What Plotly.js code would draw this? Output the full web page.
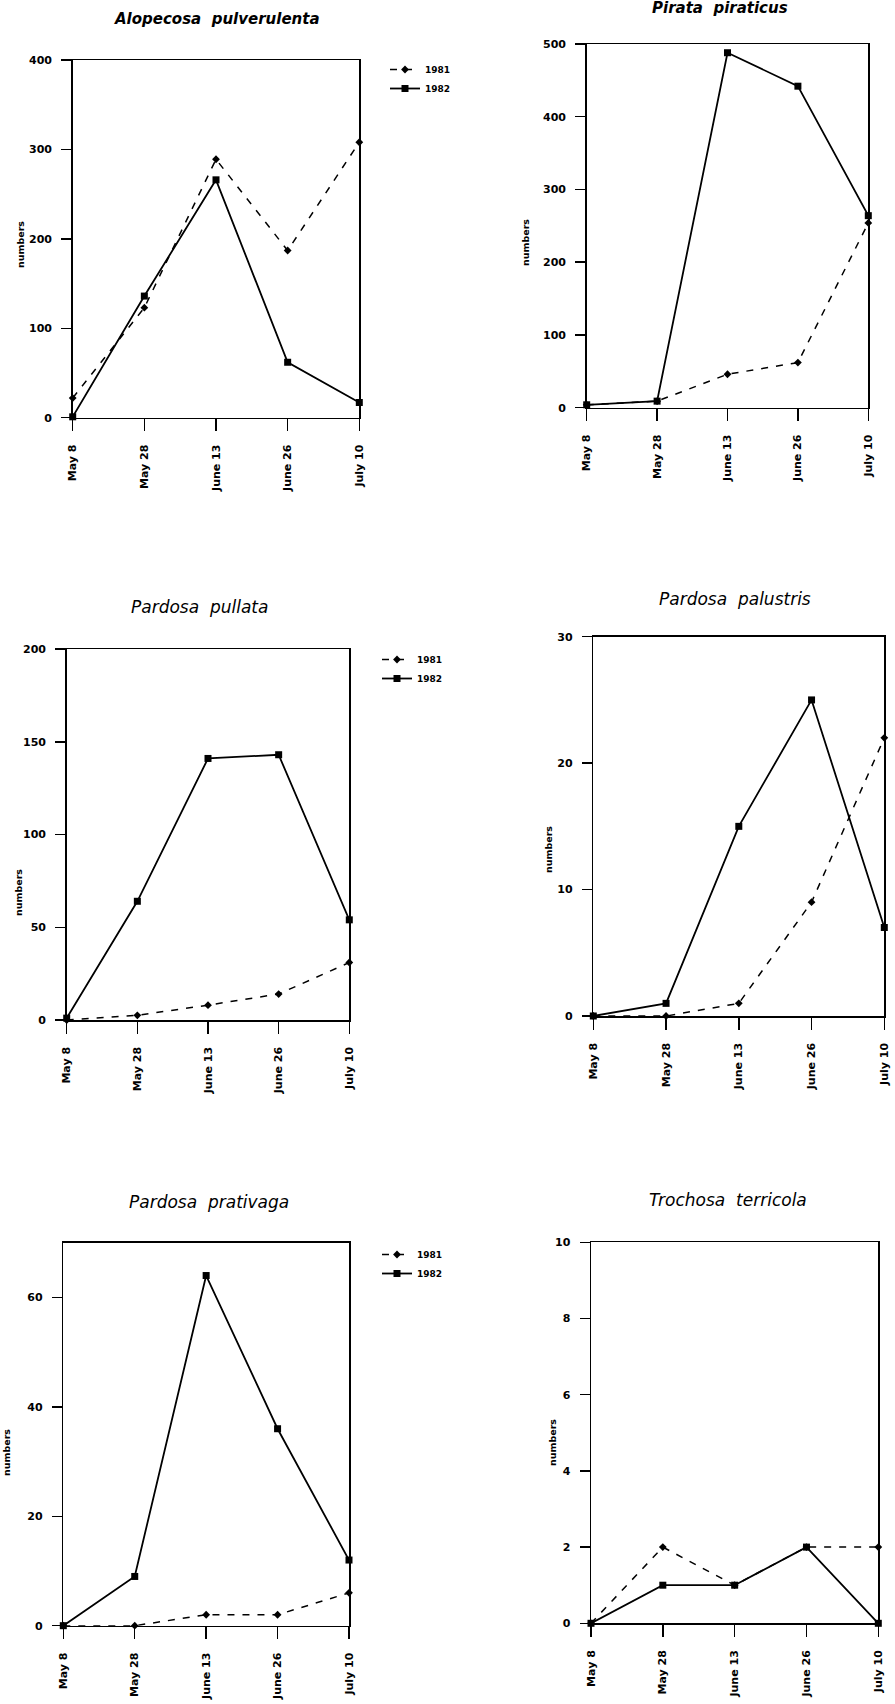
<!DOCTYPE html>
<html>
<head>
<meta charset="utf-8">
<script src="https://cdn.plot.ly/plotly-3.0.1.min.js"></script>
<style>html,body{margin:0;padding:0;background:#fff;}#chart{width:895px;height:1704px;}</style>
</head>
<body>
<div id="chart"></div>
<script>
// ---- data ----
const dates = ['May 8', 'May 28', 'June 13', 'June 26', 'July 10'];
const years = ['1981', '1982'];
const speciesNames = ['Alopecosa  pulverulenta', 'Pirata  piraticus', 'Pardosa  pullata',
                      'Pardosa  palustris', 'Pardosa  prativaga', 'Trochosa  terricola'];

const alopecosa1981 = [22, 123, 289, 187, 308];
const alopecosa1982 = [1, 136, 266, 62, 17];
const pirata1981 = [4, 9, 46, 62, 254];
const pirata1982 = [4, 9, 488, 442, 264];
const pullata1981 = [0, 2.5, 8, 14, 31];
const pullata1982 = [1, 64, 141, 143, 54];
const palustris1981 = [0, 0, 1, 9, 22];
const palustris1982 = [0, 1, 15, 25, 7];
const prativaga1981 = [0, 0, 2, 2, 6];
const prativaga1982 = [0, 9, 64, 36, 12];
const trochosa1981 = [0, 2, 1, 2, 2];
const trochosa1982 = [0, 1, 1, 2, 0];

const yTicks1 = [0, 100, 200, 300, 400];
const yTicks2 = [0, 100, 200, 300, 400, 500];
const yTicks3 = [0, 50, 100, 150, 200];
const yTicks4 = [0, 10, 20, 30];
const yTicks5 = [0, 20, 40, 60];
const yTicks6 = [0, 2, 4, 6, 8, 10];
const yRanges = [[0, 400], [0, 500], [0, 200], [0, 30], [0, 70], [0, 10]];

const series1981 = [alopecosa1981, pirata1981, pullata1981, palustris1981, prativaga1981, trochosa1981];
const series1982 = [alopecosa1982, pirata1982, pullata1982, palustris1982, prativaga1982, trochosa1982];
const yTickSets = [yTicks1, yTicks2, yTicks3, yTicks4, yTicks5, yTicks6];

// ---- layout geometry (pixels) ----
const W = 895, H = 1704;
const boxes = [
  {l: 72.7, r: 359.3, t: 60, b: 417.7, title: [216.5, 18.5], bold: true, ylab: [20, 245], legend: 'legend'},
  {l: 586.7, r: 868.3, t: 44, b: 407.7, title: [720, 7.5], bold: true, ylab: [526, 243], legend: null},
  {l: 66.7, r: 349.3, t: 649, b: 1020, title: [199, 607], bold: false, ylab: [18, 893], legend: 'legend2'},
  {l: 593.3, r: 884.3, t: 636.7, b: 1016, title: [735, 599], bold: false, ylab: [548, 850], legend: null},
  {l: 63.3, r: 349, t: 1242.7, b: 1625.7, title: [209, 1201.5], bold: false, ylab: [6, 1453], legend: 'legend3'},
  {l: 591, r: 878.3, t: 1242.3, b: 1623.3, title: [727.5, 1200], bold: false, ylab: [552, 1443], legend: null}
];
const legendPos = {legend: [385, 55], legend2: [377, 645], legend3: [377, 1240]};

const FONT = 'DejaVu Sans';
const traces = [];
const layout = {
  width: W, height: H,
  margin: {l: 0, r: 0, t: 0, b: 0},
  paper_bgcolor: '#fff', plot_bgcolor: '#fff',
  showlegend: true,
  annotations: []
};

boxes.forEach((bx, i) => {
  const n = i + 1;
  const xa = 'x' + (n === 1 ? '' : n), ya = 'y' + (n === 1 ? '' : n);
  const xk = 'xaxis' + (n === 1 ? '' : n), yk = 'yaxis' + (n === 1 ? '' : n);
  layout[xk] = {
    domain: [bx.l / W, bx.r / W], anchor: ya, type: 'category',
    range: [0, 4], showline: true, mirror: true, linecolor: '#000', linewidth: 1.5,
    ticks: 'outside', ticklen: 12, tickwidth: 1.5, tickcolor: '#000',
    tickangle: -90, ticklabelstandoff: 9,
    tickfont: {family: FONT, size: 11, weight: 'bold', color: '#000'},
    showgrid: false, zeroline: false, fixedrange: true
  };
  layout[yk] = {
    domain: [1 - bx.b / H, 1 - bx.t / H], anchor: xa,
    range: yRanges[i], tickvals: yTickSets[i], ticktext: yTickSets[i].map(String),
    showline: true, mirror: true, linecolor: '#000', linewidth: 1.5,
    ticks: 'outside', ticklen: 10, tickwidth: 1.5, tickcolor: '#000', ticklabelstandoff: 7,
    tickfont: {family: FONT, size: 11, weight: 'bold', color: '#000'},
    showgrid: false, zeroline: false, fixedrange: true
  };
  const showLeg = bx.legend !== null;
  traces.push({
    x: dates, y: series1981[i], xaxis: xa, yaxis: ya, name: years[0],
    type: 'scatter', mode: 'lines+markers', cliponaxis: false,
    line: {color: '#000', width: 1.5, dash: '7px,8px'},
    marker: {symbol: 'diamond', size: 6, color: '#000'},
    showlegend: showLeg, legend: showLeg ? bx.legend : undefined
  });
  traces.push({
    x: dates, y: series1982[i], xaxis: xa, yaxis: ya, name: years[1],
    type: 'scatter', mode: 'lines+markers', cliponaxis: false,
    line: {color: '#000', width: 1.8},
    marker: {symbol: 'square', size: 7, color: '#000'},
    showlegend: showLeg, legend: showLeg ? bx.legend : undefined
  });
  if (showLeg) {
    const p = legendPos[bx.legend];
    layout[bx.legend] = {
      x: p[0] / W, y: 1 - p[1] / H, xanchor: 'left', yanchor: 'top',
      bgcolor: 'rgba(0,0,0,0)', borderwidth: 0, itemwidth: 30, tracegroupgap: 0,
      traceorder: 'normal',
      font: {family: FONT, size: 9, weight: 'bold', color: '#000'}
    };
  }
  layout.annotations.push({
    xref: 'paper', yref: 'paper', x: bx.title[0] / W, y: 1 - bx.title[1] / H,
    xanchor: 'center', yanchor: 'middle', showarrow: false,
    text: speciesNames[i],
    font: {family: FONT, size: bx.bold ? 15 : 17, style: 'italic', weight: bx.bold ? 'bold' : 'normal', color: '#000'}
  });
  layout.annotations.push({
    xref: 'paper', yref: 'paper', x: bx.ylab[0] / W, y: 1 - bx.ylab[1] / H,
    xanchor: 'center', yanchor: 'middle', showarrow: false, textangle: -90,
    text: 'numbers',
    font: {family: FONT, size: 9.5, weight: 'bold', color: '#000'}
  });
});

Plotly.newPlot('chart', traces, layout, {staticPlot: true, displayModeBar: false});
</script>
</body>
</html>
